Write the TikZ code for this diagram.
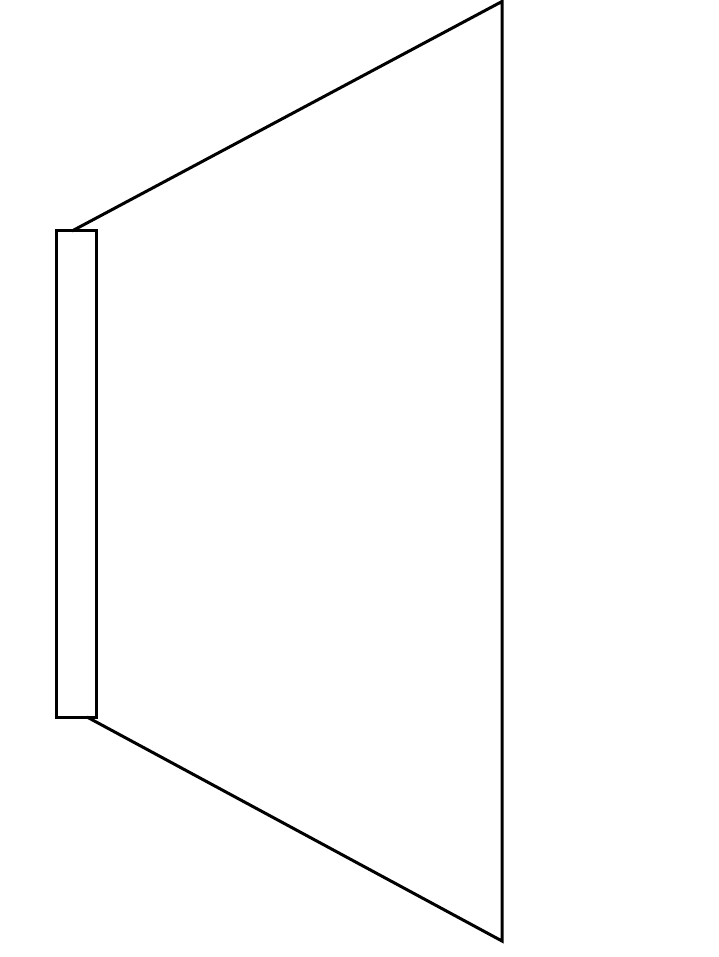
\documentclass[tikz,border=0pt]{standalone}
\begin{document}
\begin{tikzpicture}[x=1pt,y=-1pt,
  edge/.style={line width=3pt,line cap=butt,line join=miter},
  boxshape/.style={draw,line width=3pt,inner sep=0pt,minimum width=40pt,minimum height=486pt}]
\useasboundingbox (0,0) rectangle (718,957);
\node[boxshape] (box) at (76,474) {};
\coordinate (top) at (502,1.5);
\coordinate (bot) at (502,941);
\coordinate (boxtop) at (72,231);
\coordinate (boxbot) at (87,717);
\draw[edge] (boxtop) -- (top) -- (bot) -- (boxbot);
\end{tikzpicture}
\end{document}
